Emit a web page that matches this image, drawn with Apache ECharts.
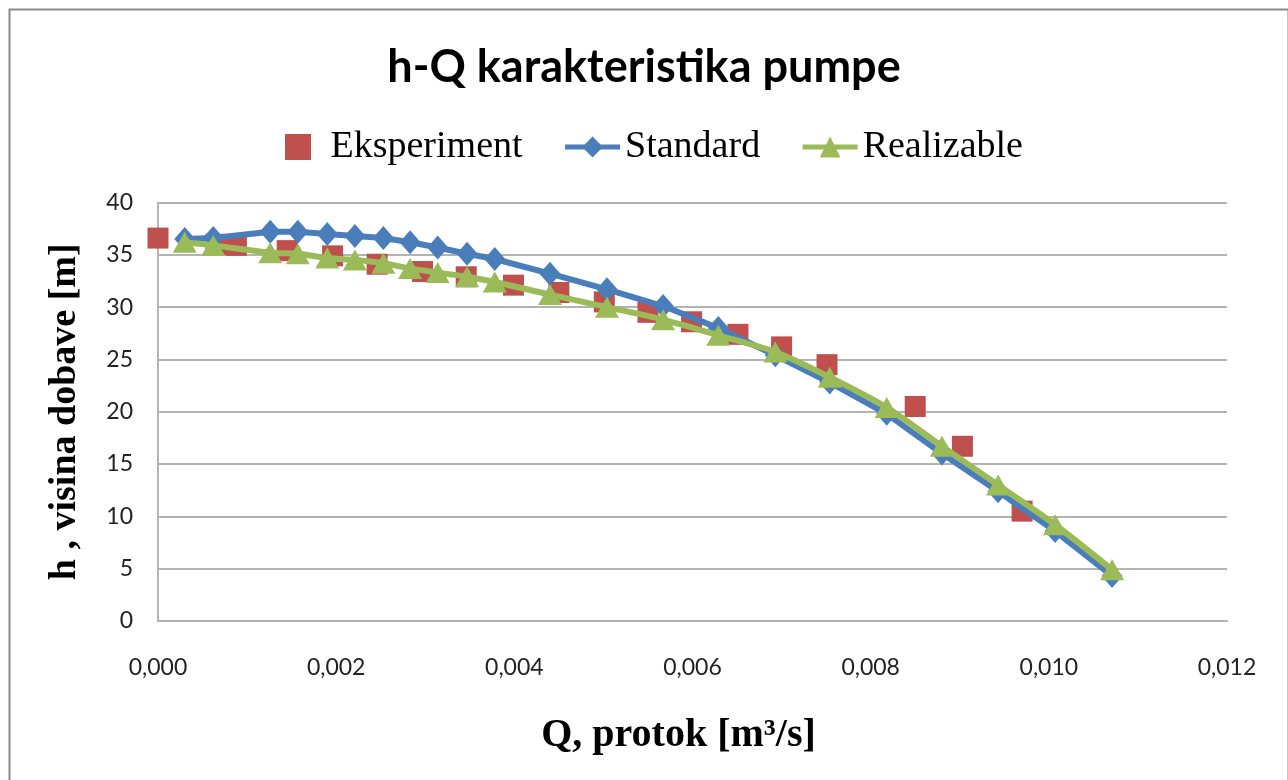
<!DOCTYPE html>
<html>
<head>
<meta charset="utf-8">
<title>h-Q karakteristika pumpe</title>
<script src="https://cdn.jsdelivr.net/npm/echarts@6/dist/echarts.min.js"></script>
<style>
  html, body { margin: 0; padding: 0; background: #ffffff; }
  #chart { width: 1288px; height: 780px; }
</style>
</head>
<body>
<div id="chart"></div>
<script>
// Measured pump head h [m] versus flow Q [m3/s]
const qExp = [0, 0.00065, 0.00088, 0.00145, 0.00196, 0.00246, 0.00297, 0.00346, 0.00399,
  0.00450, 0.00501, 0.00550, 0.00599, 0.00651, 0.00700, 0.00751, 0.00850, 0.00903, 0.00970];
const hExp = [36.6, 36.0, 35.9, 35.4, 34.9, 34.1, 33.4, 32.9, 32.1,
  31.4, 30.5, 29.5, 28.6, 27.4, 26.2, 24.5, 20.5, 16.7, 10.5];

// Flow rates used in both CFD turbulence-model runs
const qSim = [0.00030, 0.00062, 0.00126, 0.00157, 0.00190, 0.00221, 0.00253, 0.00283, 0.00314,
  0.00347, 0.00378, 0.00440, 0.00504, 0.00567, 0.00629, 0.00693, 0.00754, 0.00818, 0.00880,
  0.00943, 0.01007, 0.01071];
// k-epsilon Standard
const hStd = [36.5, 36.6, 37.2, 37.2, 37.0, 36.8, 36.6, 36.2, 35.7,
  35.1, 34.6, 33.2, 31.7, 30.1, 28.0, 25.4, 22.8, 19.8, 16.0,
  12.4, 8.6, 4.3];
// k-epsilon Realizable
const hReal = [36.2, 35.9, 35.2, 35.1, 34.7, 34.5, 34.2, 33.7, 33.3,
  32.9, 32.4, 31.2, 30.0, 28.8, 27.3, 25.7, 23.3, 20.4, 16.7,
  13.0, 9.2, 4.9];

const xTicks = { min: 0, max: 0.012, step: 0.002 };
const yTicks = { min: 0, max: 40, step: 5 };

const pairs = (xs, ys) => xs.map((x, i) => [x, ys[i]]);

// square legend marker (path keeps its aspect ratio inside the legend box)
const squareIcon = 'path://M0,0H10V10H0Z';

const chart = echarts.init(document.getElementById('chart'), null, { renderer: 'canvas' });

chart.setOption({
  backgroundColor: '#ffffff',
  animation: false,
  graphic: [{
    type: 'rect',
    left: 7, top: 7,
    shape: { width: 1279, height: 800 },
    style: { fill: 'none', stroke: '#8a8a8a', lineWidth: 2 },
    silent: true
  }],
  title: {
    text: 'h-Q karakteristika pumpe',
    left: 'center',
    top: 40,
    textStyle: { fontFamily: 'Lato', fontWeight: 'bold', fontSize: 45, color: '#000000' }
  },
  legend: {
    left: 280,
    top: 123,
    itemWidth: 55,
    itemHeight: 26,
    itemGap: 40,
    symbolKeepAspect: true,
    lineStyle: { width: 5 },
    textStyle: { fontFamily: 'Liberation Serif', fontSize: 38, color: '#000000' },
    data: [
      { name: 'Eksperiment', icon: squareIcon },
      'Standard',
      'Realizable'
    ]
  },
  grid: { left: 158, right: 61, top: 202.5, bottom: 159, containLabel: false },
  xAxis: {
    type: 'value',
    min: xTicks.min, max: xTicks.max, interval: xTicks.step,
    name: 'Q, protok [m³/s]',
    nameLocation: 'middle',
    nameGap: 95,
    nameTextStyle: {
      fontFamily: 'Liberation Serif', fontWeight: 'bold', fontSize: 40, color: '#000000',
      padding: [0, 28, 0, 0]
    },
    axisLine: { show: true, lineStyle: { color: '#b4b4b4', width: 2 } },
    axisTick: { show: false },
    splitLine: { show: false },
    axisLabel: {
      margin: 35,
      fontFamily: 'Lato', fontSize: 23, color: '#222222',
      formatter: v => v.toFixed(3).replace('.', ',')
    }
  },
  yAxis: {
    type: 'value',
    min: yTicks.min, max: yTicks.max, interval: yTicks.step,
    name: 'h , visina dobave [m]',
    nameLocation: 'middle',
    nameGap: 74,
    nameRotate: 90,
    nameTextStyle: { fontFamily: 'Liberation Serif', fontWeight: 'bold', fontSize: 38, color: '#000000' },
    axisLine: { show: true, lineStyle: { color: '#b4b4b4', width: 2 } },
    axisTick: { show: false },
    splitLine: { show: true, lineStyle: { color: '#b4b4b4', width: 2 } },
    axisLabel: {
      margin: 25,
      fontFamily: 'Lato', fontSize: 23, color: '#222222'
    }
  },
  series: [
    {
      name: 'Eksperiment',
      type: 'scatter',
      data: pairs(qExp, hExp),
      symbol: 'rect',
      symbolSize: 21,
      itemStyle: { color: '#c0504d', opacity: 1 },
      z: 2
    },
    {
      name: 'Standard',
      type: 'line',
      data: pairs(qSim, hStd),
      symbol: 'diamond',
      symbolSize: [21, 24],
      showAllSymbol: true,
      lineStyle: { color: '#4a7ebb', width: 6 },
      itemStyle: { color: '#4a7ebb' },
      z: 3
    },
    {
      name: 'Realizable',
      type: 'line',
      data: pairs(qSim, hReal),
      smooth: 0.3,
      symbol: 'triangle',
      symbolSize: [24, 21],
      showAllSymbol: true,
      lineStyle: { color: '#9bbb59', width: 6 },
      itemStyle: { color: '#9bbb59' },
      z: 4
    }
  ]
});
</script>
</body>
</html>
